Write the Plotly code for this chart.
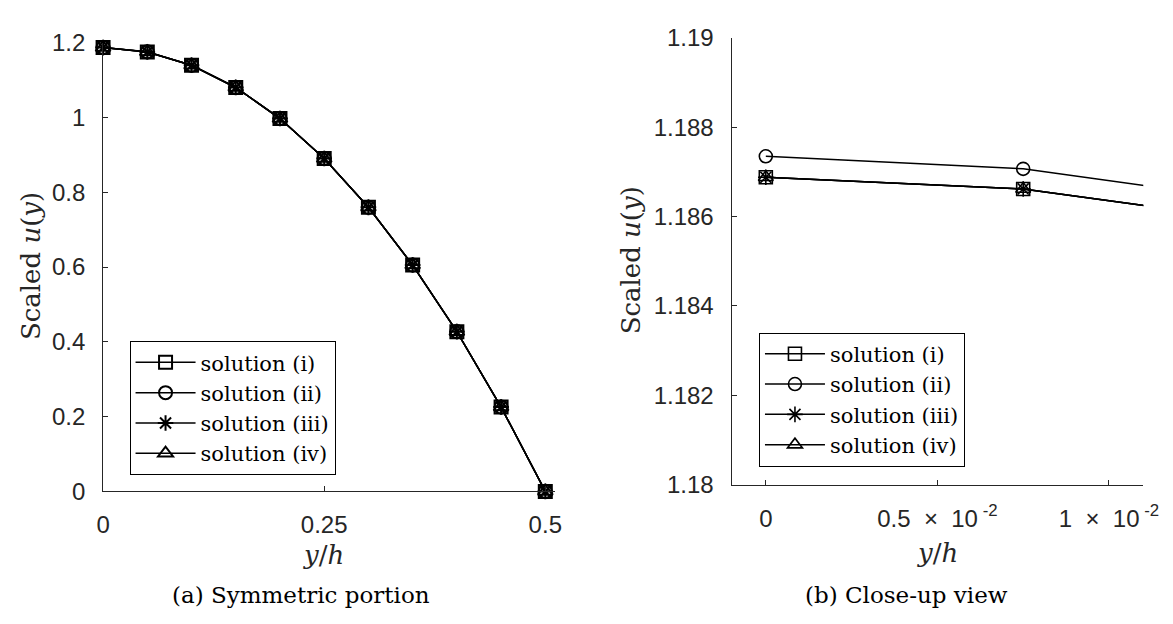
import plotly.graph_objects as go

# ---- data ----
series_names = ["solution (i)", "solution (ii)", "solution (iii)", "solution (iv)"]
symbols = ["square-open", "circle-open", "asterisk-open", "triangle-up-open"]

# full half-channel profile
y_full = [0.0, 0.05, 0.10, 0.15, 0.20, 0.25, 0.30, 0.35, 0.40, 0.45, 0.50]
u_full_i = [1.1869, 1.1752, 1.1395, 1.0803, 0.9972, 0.8902, 0.7597, 0.6053, 0.4272, 0.2256, 0.0]
u_full_ii = [1.1873, 1.1756, 1.1399, 1.0807, 0.9975, 0.8905, 0.7599, 0.6055, 0.4274, 0.2257, 0.0]
u_full_iii = [1.1869, 1.1752, 1.1395, 1.0803, 0.9972, 0.8902, 0.7597, 0.6053, 0.4272, 0.2256, 0.0]
u_full_iv = [1.1869, 1.1752, 1.1395, 1.0803, 0.9972, 0.8902, 0.7597, 0.6053, 0.4272, 0.2256, 0.0]

# close-up near the centreline
y_zoom = [0.0, 0.0075, 0.015]
u_zoom_i = [1.18688, 1.18662, 1.18583]
u_zoom_ii = [1.18735, 1.18707, 1.18628]
u_zoom_iii = [1.18688, 1.18662, 1.18583]
u_zoom_iv = [1.18688, 1.18662, 1.18583]

full_sets = [u_full_i, u_full_ii, u_full_iii, u_full_iv]
zoom_sets = [u_zoom_i, u_zoom_ii, u_zoom_iii, u_zoom_iv]

left_xticks = [0, 0.25, 0.5]
left_xticktext = ["0", "0.25", "0.5"]
left_yticks = [0, 0.2, 0.4, 0.6, 0.8, 1.0, 1.2]
left_yticktext = ["0", "0.2", "0.4", "0.6", "0.8", "1", "1.2"]
right_xticks = [0, 0.005, 0.01]
right_xticktext = ["0", "0.5 \u00a0\u00d7\u00a0 10<sup> -2</sup>", "1 \u00a0\u00d7\u00a0 10<sup> -2</sup>"]
right_yticks = [1.18, 1.182, 1.184, 1.186, 1.188, 1.19]
right_yticktext = ["1.18", "1.182", "1.184", "1.186", "1.188", "1.19"]

W, H = 1173, 624
SANS = "Liberation Sans"
SERIF = "DejaVu Serif"
AXC = "#262626"

fig = go.Figure()

for name, sym, u in zip(series_names, symbols, full_sets):
    fig.add_trace(go.Scatter(
        x=y_full, y=u, name=name, mode="lines+markers",
        line=dict(color="black", width=1.5),
        marker=dict(symbol=sym, size=13, color="black", line=dict(color="black", width=2)),
        xaxis="x", yaxis="y", legend="legend", cliponaxis=False,
    ))

for name, sym, u in zip(series_names, symbols, zoom_sets):
    fig.add_trace(go.Scatter(
        x=y_zoom, y=u, name=name, mode="lines+markers",
        line=dict(color="black", width=1.5),
        marker=dict(symbol=sym, size=13, color="black", line=dict(color="black", width=1.6)),
        xaxis="x2", yaxis="y2", legend="legend2",
    ))


def px_x(p):
    return p / W


def px_y(p):
    return 1 - p / H


axis_common = dict(
    showgrid=False, zeroline=False, showline=True, linecolor=AXC, linewidth=1,
    ticks="inside", ticklen=5, tickcolor=AXC, tickwidth=1,
    tickfont=dict(family=SANS, size=24, color=AXC),
    ticklabelstandoff=12,
)

legend_common = dict(
    xanchor="left", yanchor="top",
    bordercolor="black", borderwidth=1, bgcolor="white",
    font=dict(family=SERIF, size=21, color="black"),
    tracegroupgap=0, itemwidth=60,
)

fig.update_layout(
    width=W, height=H,
    margin=dict(l=0, r=0, t=0, b=0),
    paper_bgcolor="white", plot_bgcolor="white",
    xaxis=dict(domain=[px_x(98), px_x(559)], range=[0, 0.511], anchor="y",
               tickvals=left_xticks, ticktext=left_xticktext, **axis_common),
    yaxis=dict(domain=[px_y(499), px_y(30)], range=[0, 1.2], anchor="x",
               tickvals=left_yticks, ticktext=left_yticktext, **axis_common),
    xaxis2=dict(domain=[px_x(739), px_x(1159)], range=[-0.001, 0.011], anchor="y2",
                tickvals=right_xticks, ticktext=right_xticktext, **axis_common),
    yaxis2=dict(domain=[px_y(492), px_y(25)], range=[1.18, 1.19], anchor="x2",
                tickvals=right_yticks, ticktext=right_yticktext, **axis_common),
    legend=dict(x=px_x(125), y=px_y(342), **legend_common),
    legend2=dict(x=px_x(767), y=px_y(333), **legend_common),
    showlegend=True,
)

title_font = dict(family=SERIF, size=26, color=AXC)
caption_font = dict(family=SERIF, size=23, color="black")
annotations = [
    dict(text="<i>y</i>/<i>h</i>", x=px_x(323), y=px_y(565), font=title_font),
    dict(text="<i>y</i>/<i>h</i>", x=px_x(949), y=px_y(563), font=title_font),
    dict(text="Scaled <i>u</i>(<i>y</i>)", x=px_x(24), y=px_y(264), font=title_font, textangle=-90),
    dict(text="Scaled <i>u</i>(<i>y</i>)", x=px_x(636), y=px_y(258), font=title_font, textangle=-90),
    dict(text="(a) Symmetric portion", x=px_x(300), y=px_y(607), font=caption_font),
    dict(text="(b) Close-up view", x=px_x(917), y=px_y(607), font=caption_font),
]
for a in annotations:
    a.update(xref="paper", yref="paper", showarrow=False, xanchor="center", yanchor="middle")
fig.update_layout(annotations=annotations)

fig.write_html("out.html")
